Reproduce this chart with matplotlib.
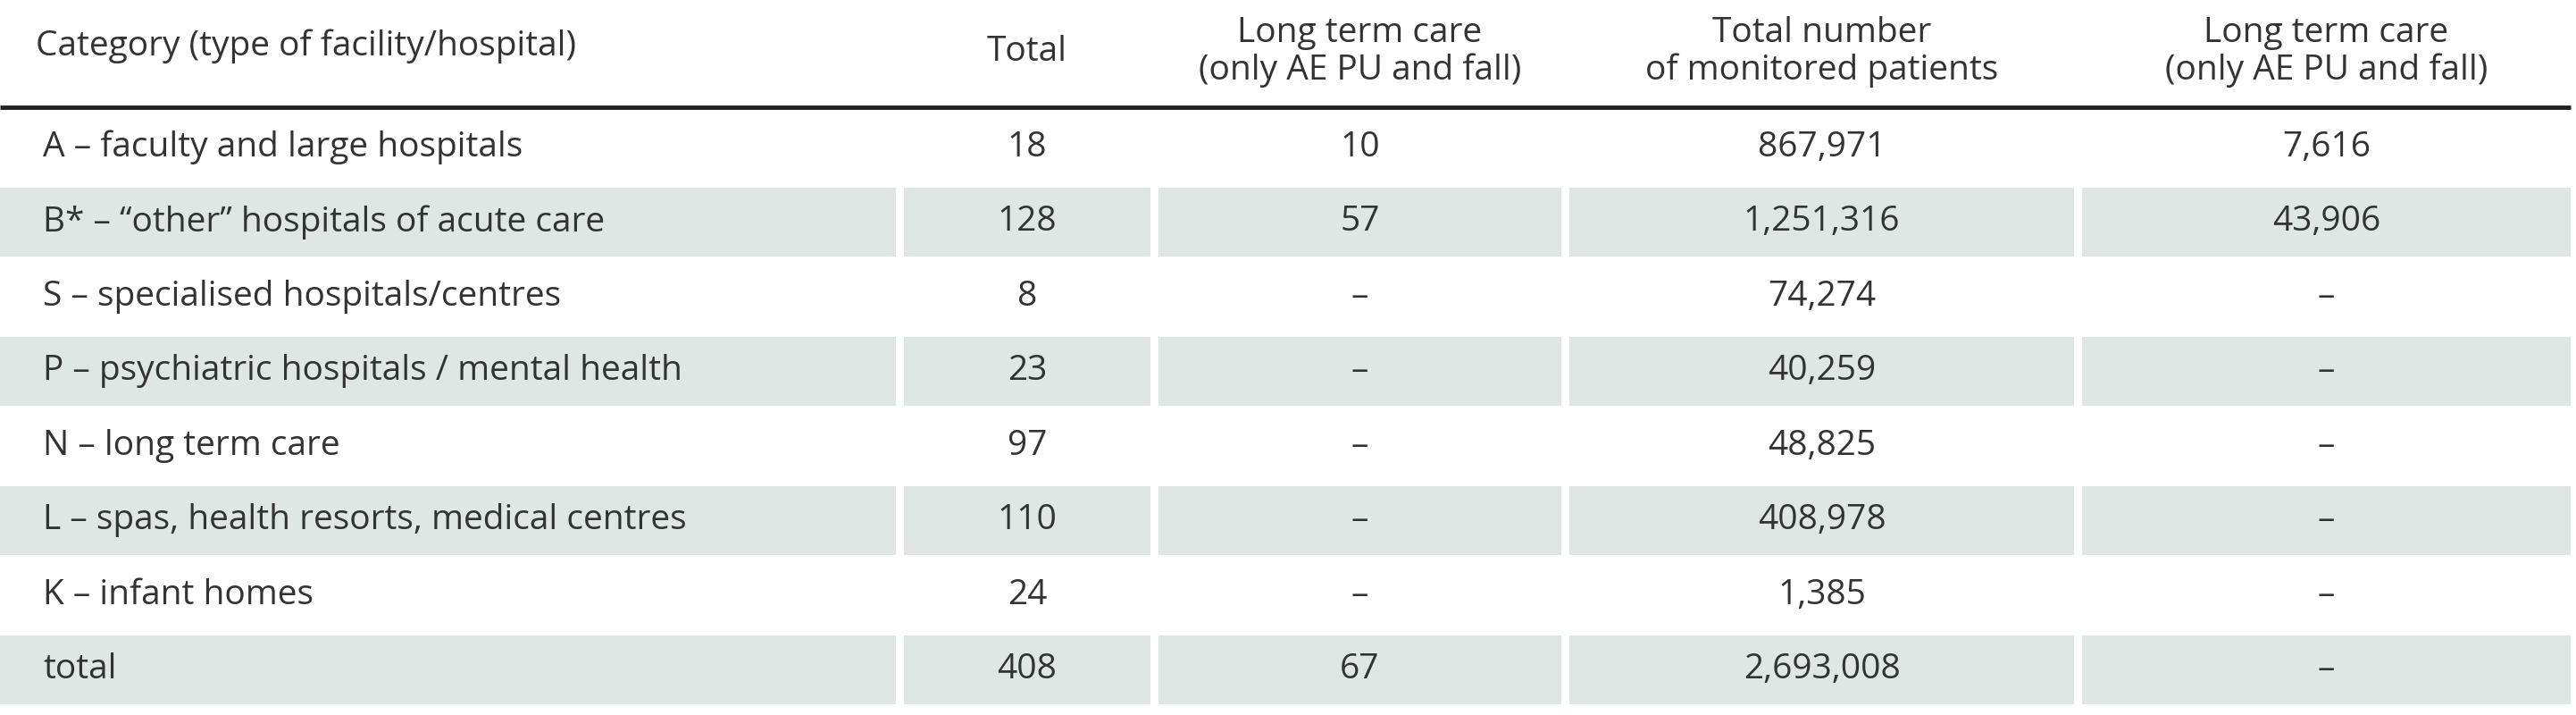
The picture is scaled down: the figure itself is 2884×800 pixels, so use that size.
import matplotlib
matplotlib.use("Agg")
import matplotlib.pyplot as plt
from matplotlib.patches import Rectangle

headers = ["Category (type of facility/hospital)", "Total", "Long term care\n(only AE PU and fall)",
           "Total number\nof monitored patients", "Long term care\n(only AE PU and fall)"]
categories = ["A – faculty and large hospitals", "B* – \u201cother\u201d hospitals of acute care",
              "S – specialised hospitals/centres", "P – psychiatric hospitals / mental health",
              "N – long term care", "L – spas, health resorts, medical centres",
              "K – infant homes", "total"]
totals = ["18", "128", "8", "23", "97", "110", "24", "408"]
ltc_facilities = ["10", "57", "–", "–", "–", "–", "–", "67"]
monitored = ["867,971", "1,251,316", "74,274", "40,259", "48,825", "408,978", "1,385", "2,693,008"]
ltc_patients = ["7,616", "43,906", "–", "–", "–", "–", "–", "–"]

W, H = 2884, 800
fig = plt.figure(figsize=(W/100, H/100), dpi=100)
ax = fig.add_axes([0, 0, 1, 1])
ax.set_xlim(0, W); ax.set_ylim(H, 0); ax.axis("off")

fam = ["Open Sans", "DejaVu Sans"]
tc = "#333333"
shade = "#dfe6e4"
cols = [(0, 1003), (1012, 1288), (1297, 1748), (1757, 2322), (2331, 2878)]
fs = 28

# header
for i, (h, (x0, x1)) in enumerate(zip(headers, cols)):
    if i == 0:
        ax.text(40, 52, h, ha="left", va="center", fontsize=fs, color=tc, family=fam)
    else:
        ax.text((x0+x1)/2, 58, h, ha="center", va="center", fontsize=fs, color=tc,
                family=fam, linespacing=1.1)
ax.plot([0, W-6], [120, 120], color="#222222", lw=3.5, solid_capstyle="butt")

top = 123
rh = 83.5
gap = 6
columns = [categories, totals, ltc_facilities, monitored, ltc_patients]
for r in range(len(categories)):
    y0 = top + r*rh
    yc = y0 + rh/2
    if r % 2 == 1:
        for (x0, x1) in cols:
            ax.add_patch(Rectangle((x0, y0+gap/2), x1-x0, rh-gap, color=shade, lw=0))
    for c, (x0, x1) in enumerate(cols):
        val = columns[c][r]
        if c == 0:
            ax.text(48, yc, val, ha="left", va="center", fontsize=fs, color=tc, family=fam)
        else:
            ax.text((x0+x1)/2, yc, val, ha="center", va="center", fontsize=fs, color=tc, family=fam)

fig.savefig("out.png", dpi=100, facecolor="white")
